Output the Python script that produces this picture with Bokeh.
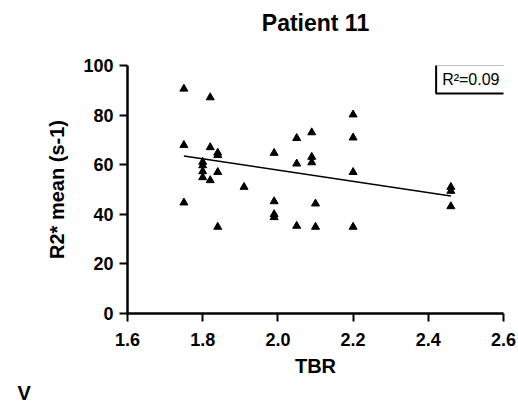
from bokeh.plotting import figure
from bokeh.models import Range1d, FixedTicker, Label, Title, LinearAxis
from bokeh.embed import file_html
from bokeh.resources import INLINE

# ---- data ----
tbr = [1.75, 1.75, 1.75,
       1.80, 1.80, 1.80, 1.80,
       1.82, 1.82, 1.82,
       1.84, 1.84, 1.84, 1.84,
       1.91,
       1.99, 1.99, 1.99, 1.99,
       2.05, 2.05, 2.05,
       2.09, 2.09, 2.09,
       2.10, 2.10,
       2.20, 2.20, 2.20, 2.20,
       2.46, 2.46, 2.46]
r2_mean = [90.6, 67.9, 44.7,
           61.1, 59.7, 57.3, 54.9,
           87.1, 67.0, 53.7,
           64.8, 63.8, 57.0, 34.9,
           51.0,
           64.7, 45.2, 40.0, 38.8,
           70.7, 60.4, 35.3,
           73.0, 63.1, 60.9,
           44.3, 34.9,
           80.2, 70.9, 57.0, 34.9,
           51.0, 49.4, 43.2]

# linear fit line as shown in the reference
fit_tbr = [1.75, 2.46]
fit_r2 = [63.5, 47.4]

xticks = [1.6, 1.8, 2.0, 2.2, 2.4, 2.6]
xtick_labels = ["1.6", "1.8", "2.0", "2.2", "2.4", "2.6"]
yticks = [0, 20, 40, 60, 80, 100]
title_text = "Patient 11"
r2_text = "R\u00b2=0.09"
panel_letter = "V"

FONT = "Liberation Sans"

p = figure(width=518, height=405, output_backend="svg", toolbar_location=None,
           x_range=Range1d(1.6, 2.6), y_range=Range1d(0, 100),
           min_border_left=127, min_border_right=15,
           min_border_top=65, min_border_bottom=92)

p.outline_line_color = None
p.xgrid.visible = False
p.ygrid.visible = False
p.background_fill_color = "white"
p.border_fill_color = "white"

for ax in (p.xaxis[0], p.yaxis[0]):
    ax.axis_line_width = 2.5
    ax.axis_line_color = "black"
    ax.major_tick_line_width = 2
    ax.major_tick_line_color = "black"
    ax.major_tick_out = 8
    ax.major_tick_in = 0
    ax.minor_tick_line_color = None
    ax.major_label_text_font = FONT
    ax.major_label_text_font_size = "18px"
    ax.major_label_text_font_style = "bold"
    ax.major_label_text_color = "black"
    ax.axis_label_text_font = FONT
    ax.axis_label_text_font_size = "20px"
    ax.axis_label_text_font_style = "bold"
    ax.axis_label_text_color = "black"

p.xaxis.ticker = FixedTicker(ticks=xticks)
p.xaxis.major_label_overrides = {t: l for t, l in zip(xticks, xtick_labels)}
p.yaxis.ticker = FixedTicker(ticks=yticks)
p.xaxis.axis_label = "TBR"
p.yaxis.axis_label = "R2* mean (s-1)"
p.xaxis.major_label_standoff = 11
p.xaxis.axis_label_standoff = 6
p.yaxis.major_label_standoff = 6
p.yaxis.axis_label_standoff = 12

# chart title, carried by a bare axis above the frame
title_axis = LinearAxis(ticker=FixedTicker(ticks=[]), axis_label=title_text,
                        axis_line_color=None, major_tick_line_color=None,
                        minor_tick_line_color=None, major_tick_out=0,
                        major_tick_in=0, major_label_standoff=0,
                        axis_label_standoff=30,
                        axis_label_text_font=FONT,
                        axis_label_text_font_size="23px",
                        axis_label_text_font_style="bold",
                        axis_label_text_color="black")
p.add_layout(title_axis, "above")

p.line(fit_tbr, fit_r2, line_color="black", line_width=1.5)
p.scatter(tbr, r2_mean, marker="triangle", size=8,
          fill_color="black", line_color="black")

r2_label = Label(x=2.6053, y=100.4, text=r2_text, text_align="right",
                 text_baseline="top", text_font=FONT, text_font_size="16px",
                 text_color="black", padding=6,
                 border_line_color="black", border_line_width=2,
                 background_fill_color="white")
p.add_layout(r2_label)

v_title = Title(text=panel_letter, align="left", offset=-110, standoff=0,
                text_font=FONT, text_font_size="20px", text_font_style="bold",
                text_color="black")
p.add_layout(v_title, "below")

open("out.html", "w").write(file_html(p, INLINE))
